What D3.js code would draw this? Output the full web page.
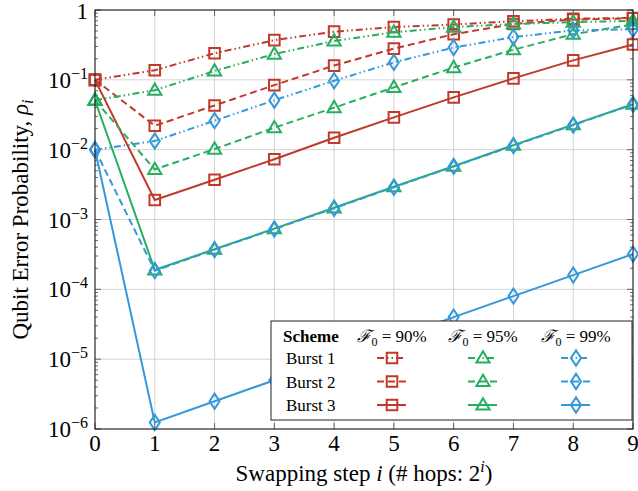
<!DOCTYPE html>
<html>
<head>
<meta charset="utf-8">
<script src="https://cdn.jsdelivr.net/npm/d3@7"></script>
<style>
  body { margin: 0; background: #fff; }
</style>
</head>
<body>
<svg id="chart" width="638" height="491" font-family="'Liberation Serif', 'Times New Roman', serif"></svg>
<script>
// data
const steps = [0, 1, 2, 3, 4, 5, 6, 7, 8, 9];
const fidelities = ["90%", "95%", "99%"];
const schemes = ["Burst 1", "Burst 2", "Burst 3"];
const yTickExps = [0, -1, -2, -3, -4, -5, -6];

const red1 = [0.1, 0.137, 0.24, 0.37, 0.49, 0.57, 0.62, 0.69, 0.75, 0.77];
const red2 = [0.1, 0.022, 0.043, 0.084, 0.16, 0.28, 0.45, 0.63, 0.73, 0.76];
const red3 = [0.1, 0.0019, 0.0037, 0.0073, 0.0148, 0.029, 0.056, 0.105, 0.19, 0.32];
const green1 = [0.051, 0.071, 0.134, 0.234, 0.36, 0.48, 0.57, 0.63, 0.67, 0.70];
const green2 = [0.051, 0.0052, 0.0102, 0.0206, 0.040, 0.078, 0.15, 0.27, 0.45, 0.62];
const green3 = [0.051, 1.9e-4, 3.75e-4, 7.4e-4, 1.47e-3, 2.95e-3, 5.8e-3, 0.0116, 0.0228, 0.0448];
const blue1 = [0.01, 0.0133, 0.026, 0.051, 0.097, 0.178, 0.29, 0.41, 0.51, 0.53];
const blue2 = [0.01, 1.85e-4, 3.7e-4, 7.3e-4, 1.45e-3, 2.9e-3, 5.75e-3, 0.0114, 0.0225, 0.0446];
const blue3 = [0.01, 1.24e-6, 2.5e-6, 5.0e-6, 1.0e-5, 2.0e-5, 4.0e-5, 8.0e-5, 1.6e-4, 3.2e-4];

const colors = ["#c0392b", "#27ae60", "#3498db"];
const markers = ["square", "triangle", "diamond"];
const dashes = ["7,3,1.5,3,1.5,3", "7,4", null];

const series = [
    [red1, red2, red3],
    [green1, green2, green3],
    [blue1, blue2, blue3],
];

const svg = d3.select("#chart");
const margin = { top: 10, right: 5, bottom: 62, left: 95 };
const width = +svg.attr("width");
const height = +svg.attr("height");
const plotW = width - margin.left - margin.right;
const plotH = height - margin.top - margin.bottom;

const x = d3.scaleLinear().domain([0, 9]).range([0, plotW]);
const y = d3.scaleLog().domain([1e-6, 1]).range([plotH, 0]);

const g = svg.append("g").attr("transform", `translate(${margin.left},${margin.top})`);

// grid
g.append("g").selectAll("line")
    .data(steps)
    .join("line")
    .attr("x1", d => x(d)).attr("x2", d => x(d))
    .attr("y1", 0).attr("y2", plotH)
    .attr("stroke", "#d4d4d4").attr("stroke-width", 1);
g.append("g").selectAll("line")
    .data(yTickExps)
    .join("line")
    .attr("x1", 0).attr("x2", plotW)
    .attr("y1", d => y(Math.pow(10, d))).attr("y2", d => y(Math.pow(10, d)))
    .attr("stroke", "#d4d4d4").attr("stroke-width", 1);

// minor ticks on y (left and right, inward)
const minor = [];
for (let e = -6; e < 0; e++) {
    for (let m = 2; m <= 9; m++) minor.push(m * Math.pow(10, e));
}
[0, plotW].forEach((xx, k) => {
    const dir = k === 0 ? 1 : -1;
    g.append("g").selectAll("line")
        .data(minor)
        .join("line")
        .attr("x1", xx).attr("x2", xx + dir * 3)
        .attr("y1", d => y(d)).attr("y2", d => y(d))
        .attr("stroke", "#444").attr("stroke-width", 0.8);
    g.append("g").selectAll("line")
        .data(yTickExps)
        .join("line")
        .attr("x1", xx).attr("x2", xx + dir * 6)
        .attr("y1", d => y(Math.pow(10, d))).attr("y2", d => y(Math.pow(10, d)))
        .attr("stroke", "#444").attr("stroke-width", 0.8);
});
[0, plotH].forEach((yy, k) => {
    const dir = k === 0 ? 1 : -1;
    g.append("g").selectAll("line")
        .data(steps)
        .join("line")
        .attr("x1", d => x(d)).attr("x2", d => x(d))
        .attr("y1", yy).attr("y2", yy + dir * 6)
        .attr("stroke", "#444").attr("stroke-width", 0.8);
});

// marker shapes
function markerPath(type) {
    if (type === "square") return "M-5.3,-5.3H5.3V5.3H-5.3Z";
    if (type === "triangle") return "M0,-6.8L6.6,4.6H-6.6Z";
    return "M0,-7.6L5,0L0,7.6L-5,0Z";
}

const line = d3.line()
    .x((d, i) => x(steps[i]))
    .y(d => y(d));

series.forEach((group, c) => {
    group.forEach((vals, b) => {
        const sg = g.append("g");
        sg.append("path")
            .datum(vals)
            .attr("d", line)
            .attr("fill", "none")
            .attr("stroke", colors[c])
            .attr("stroke-width", 2)
            .attr("stroke-dasharray", dashes[b]);
        sg.selectAll("path.mk")
            .data(vals)
            .join("path")
            .attr("class", "mk")
            .attr("transform", (d, i) => `translate(${x(steps[i])},${y(d)})`)
            .attr("d", markerPath(markers[c]))
            .attr("fill", "none")
            .attr("stroke", colors[c])
            .attr("stroke-width", 2);
    });
});

// frame
g.append("rect")
    .attr("width", plotW).attr("height", plotH)
    .attr("fill", "none").attr("stroke", "#111").attr("stroke-width", 1);

// tick labels
g.append("g").selectAll("text")
    .data(steps)
    .join("text")
    .attr("x", d => x(d))
    .attr("y", plotH + 22)
    .attr("text-anchor", "middle")
    .attr("font-size", 23)
    .text(d => d);

const yLab = g.append("g").selectAll("text")
    .data(yTickExps)
    .join("text")
    .attr("x", -7)
    .attr("y", d => y(Math.pow(10, d)) + (d === 0 ? 9 : 8))
    .attr("text-anchor", "end")
    .attr("font-size", 23);
yLab.filter(d => d === 0).text("1");
yLab.filter(d => d !== 0).each(function (d) {
    const t = d3.select(this);
    t.append("tspan").text("10");
    t.append("tspan").attr("dy", -9).attr("font-size", 16).text("\u2212" + (-d));
});

// axis titles
const xt = svg.append("text")
    .attr("x", margin.left + plotW / 2)
    .attr("y", 481)
    .attr("text-anchor", "middle")
    .attr("font-size", 23);
xt.append("tspan").text("Swapping step ");
xt.append("tspan").attr("font-style", "italic").text("i");
xt.append("tspan").text(" (# hops: 2");
xt.append("tspan").attr("dy", -9).attr("font-size", 16).attr("font-style", "italic").text("i");
xt.append("tspan").attr("dy", 9).text(")");

const yt = svg.append("text")
    .attr("transform", `translate(28,${margin.top + plotH / 2}) rotate(-90)`)
    .attr("text-anchor", "middle")
    .attr("font-size", 23);
yt.append("tspan").text("Qubit Error Probability, ");
yt.append("tspan").attr("font-style", "italic").text("\u03c1");
yt.append("tspan").attr("dy", 5).attr("font-size", 16).attr("font-style", "italic").text("i");

// legend
const lg = svg.append("g").attr("transform", "translate(271,321)");
lg.append("rect")
    .attr("width", 361).attr("height", 99)
    .attr("fill", "#fff").attr("stroke", "#222").attr("stroke-width", 1);
lg.append("text")
    .attr("x", 12).attr("y", 21)
    .attr("font-size", 17).attr("font-weight", "bold")
    .text("Scheme");
const colX = [121, 212, 305];
fidelities.forEach((f, c) => {
    const t = lg.append("text")
        .attr("x", colX[c]).attr("y", 21)
        .attr("text-anchor", "middle")
        .attr("font-size", 17);
    t.append("tspan").attr("font-style", "italic").text("\u2131");
    t.append("tspan").attr("dy", 4).attr("font-size", 12).text("0");
    t.append("tspan").attr("dy", -4).text(" = " + f);
});
schemes.forEach((s, b) => {
    const cy = 37 + b * 23.5;
    lg.append("text")
        .attr("x", 15).attr("y", cy + 6)
        .attr("font-size", 17)
        .text(s);
    colors.forEach((col, c) => {
        lg.append("line")
            .attr("x1", colX[c] - 15).attr("x2", colX[c] + 14)
            .attr("y1", cy).attr("y2", cy)
            .attr("stroke", col).attr("stroke-width", 2)
            .attr("stroke-dasharray", dashes[b]);
        lg.append("path")
            .attr("transform", `translate(${colX[c]},${cy})`)
            .attr("d", markerPath(markers[c]))
            .attr("fill", "none").attr("stroke", col).attr("stroke-width", 2);
    });
});
</script>
</body>
</html>
